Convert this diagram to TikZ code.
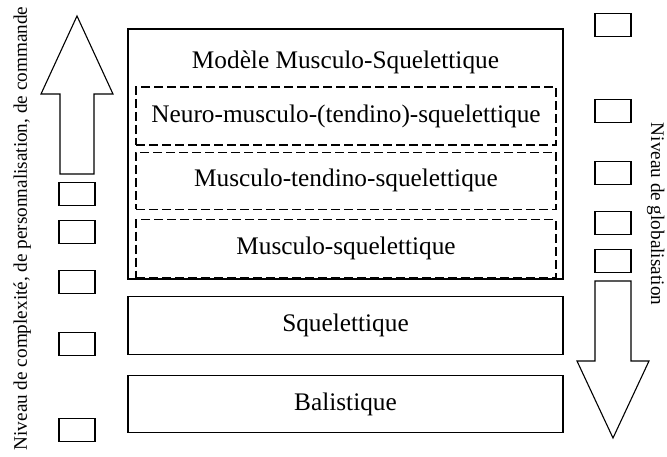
\documentclass[tikz,border=0pt]{standalone}
\usepackage{fontspec}
\setmainfont{Liberation Serif}
\usetikzlibrary{positioning}

\newcommand{\grand}{\fontsize{25.3}{30}\selectfont}
\newcommand{\petit}{\fontsize{19.2}{23}\selectfont}

\begin{document}
\begin{tikzpicture}[x=1pt, y=-1pt, line width=1.3pt,
    niveau/.style={draw, minimum width=435pt, minimum height=57pt, inner sep=0pt, font=\grand},
    sous/.style={draw, dash pattern=on 9pt off 4pt, minimum width=420pt, minimum height=57pt, inner sep=0pt, font=\grand},
    case/.style={draw, minimum width=36pt, minimum height=23pt, inner sep=0pt},
    fleche/.style={draw, line width=1.1pt, line join=miter}]
    \useasboundingbox (0,0) rectangle (667,457);
    % modele musculo-squelettique et ses sous-niveaux
    \node[niveau, minimum height=250pt] (m_0) at (345.5,154) {};
    \node[font=\grand] (titre) at (345.5,62) {Modèle Musculo-Squelettique};
    \node[sous, minimum height=58pt] (m_1) at (346,116) {Neuro-musculo-(tendino)-squelettique};
    \node[sous] (m_2) [below=6pt of m_1] {Musculo-tendino-squelettique};
    \node[sous, minimum height=58pt] (m_3) [below=9pt of m_2] {Musculo-squelettique};
    \node[niveau, minimum height=58pt] (s_0) [below=16pt of m_0] {Squelettique};
    \node[niveau] (b_0) [below=20pt of s_0] {Balistique};
    % fleches
    \draw[fleche] (60,174) -- (60,94) -- (41,94) -- (77,16) -- (113,94) -- (94,94) -- (94,174) -- cycle;
    \draw[fleche] (595,281) -- (595,361) -- (577,361) -- (613,438) -- (649,361) -- (631,361) -- (631,281) -- cycle;
    \foreach \d [count=\i] in {20,58,108,170,256} {
        \node[case] (g_\i) at (77,174+\d) {};
        \node[case] (d_\i) at (613,281-\d) {};
    }
    \node[font=\petit, rotate=90, anchor=base] (t_g) at (27,228.5) {Niveau de complexité, de personnalisation, de commande};
    \node[font=\petit, rotate=-90, anchor=base] (t_d) at (651,214) {Niveau de globalisation};
\end{tikzpicture}
\end{document}
